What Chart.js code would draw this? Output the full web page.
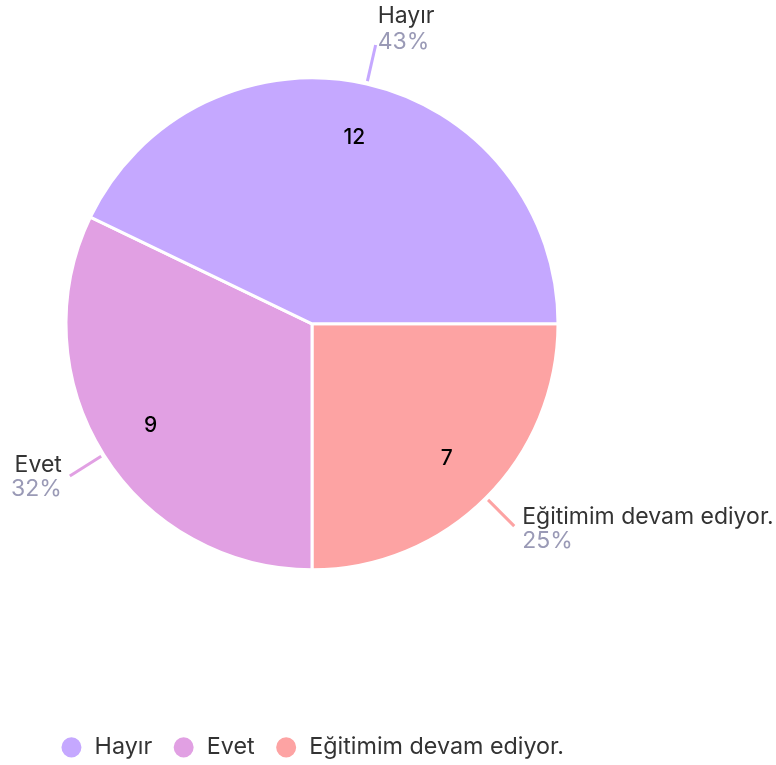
<!DOCTYPE html>
<html>
<head>
<meta charset="utf-8">
<script src="https://cdn.jsdelivr.net/npm/chart.js@4.4.1/dist/chart.umd.min.js"></script>
<style>
  html, body { margin: 0; padding: 0; background: #fff; }
  #contenedor { width: 776px; height: 765px; }
</style>
</head>
<body>
<div id="contenedor"><canvas id="myChart"></canvas></div>
<script>
// Datos (orden de la leyenda)
const etiquetas = ['Hayır', 'Evet', 'Eğitimim devam ediyor.'];
const valores = [12, 9, 7];
const colores = ['#c5a8ff', '#e1a0e3', '#fda3a3'];

const FUENTE = 'Inter, "Noto Sans", sans-serif';

// El grafico original va en sentido antihorario, Chart.js va en horario:
// invertimos el orden para dibujar y la leyenda se vuelve a invertir.
const etiquetasDib = etiquetas.slice().reverse();
const valoresDib = valores.slice().reverse();
const coloresDib = colores.slice().reverse();

// Porcentaje redondeado de cada rebanada
function porcentaje(v){
    const total = valores.reduce((a, b) => a + b, 0);
    return Math.round(v / total * 100) + '%';
}

// Dibuja los numeros dentro y las etiquetas con linea afuera
const etiquetasExternas = {
    id: 'etiquetasExternas',
    afterDatasetsDraw(chart){
        const ctx = chart.ctx;
        const meta = chart.getDatasetMeta(0);
        meta.data.forEach((arc, i) => {
            const p = arc.getProps(['x', 'y', 'startAngle', 'endAngle', 'outerRadius']);
            const medio = (p.startAngle + p.endAngle) / 2;
            const cos = Math.cos(medio);
            const sin = Math.sin(medio);
            const R = p.outerRadius;

            ctx.save();
            // numero dentro
            ctx.font = '500 21px ' + FUENTE;
            ctx.fillStyle = '#000';
            ctx.textAlign = 'center';
            ctx.textBaseline = 'middle';
            const rIn = R * 0.775;
            ctx.fillText(String(valoresDib[i]), p.x + cos * rIn, p.y + sin * rIn);

            // linea
            const x1 = p.x + cos * (R + 3), y1 = p.y + sin * (R + 3);
            const x2 = p.x + cos * (R + 40), y2 = p.y + sin * (R + 40);
            ctx.strokeStyle = coloresDib[i];
            ctx.lineWidth = 3;
            ctx.beginPath();
            ctx.moveTo(x1, y1);
            ctx.lineTo(x2, y2);
            ctx.stroke();

            // texto
            let tx, yEt, yPor;
            if (Math.abs(cos) < 0.5){
                ctx.textAlign = 'left';
                tx = x2 + 2;
                yEt = y2 - 22;
                yPor = y2 + 4;
            } else if (cos > 0){
                ctx.textAlign = 'left';
                tx = x2 + 8;
                yEt = y2 - 2;
                yPor = y2 + 22;
            } else {
                ctx.textAlign = 'right';
                tx = x2 - 8;
                yEt = y2 - 4;
                yPor = y2 + 20;
            }
            ctx.textBaseline = 'alphabetic';
            ctx.font = '23px ' + FUENTE;
            ctx.fillStyle = '#333333';
            ctx.fillText(etiquetasDib[i], tx, yEt);
            ctx.fillStyle = '#9a9ab6';
            ctx.fillText(porcentaje(valoresDib[i]), tx, yPor);
            ctx.restore();
        });
    }
};

const ctx = document.getElementById('myChart');

new Chart(ctx, {
    type: 'pie',
    data: {
        labels: etiquetasDib,
        datasets: [{
            data: valoresDib,
            backgroundColor: coloresDib,
            borderColor: '#ffffff',
            borderWidth: 3
        }]
    },
    options: {
        responsive: true,
        maintainAspectRatio: false,
        animation: false,
        events: [],
        radius: 246,
        rotation: 90,
        layout: {
            padding: { left: 0, right: 152, top: 0, bottom: -4 }
        },
        plugins: {
            tooltip: { enabled: false },
            legend: {
                position: 'bottom',
                reverse: true,
                // titulo vacio solo para dejar espacio entre el pastel y la leyenda
                title: {
                    display: true,
                    text: '',
                    font: { size: 10 },
                    padding: { top: 56, bottom: 0 }
                },
                labels: {
                    usePointStyle: true,
                    pointStyle: 'circle',
                    pointStyleWidth: 23,
                    boxHeight: 16.3,
                    padding: 20,
                    color: '#333333',
                    font: { family: FUENTE, size: 23.3 }
                }
            }
        }
    },
    plugins: [etiquetasExternas]
});
</script>
</body>
</html>
